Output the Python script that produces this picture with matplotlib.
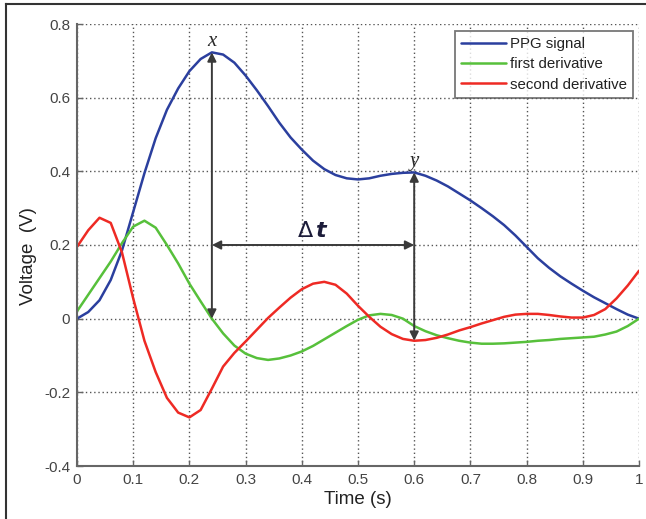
import numpy as np
import matplotlib
matplotlib.use("Agg")
import matplotlib.pyplot as plt
from matplotlib.lines import Line2D

plt.rcParams['font.family'] = ['Liberation Sans', 'DejaVu Sans']

# ---- data ----
time_s = [0.00, 0.02, 0.04, 0.06, 0.08, 0.10, 0.12, 0.14, 0.16, 0.18,
          0.20, 0.22, 0.24, 0.26, 0.28, 0.30, 0.32, 0.34, 0.36, 0.38,
          0.40, 0.42, 0.44, 0.46, 0.48, 0.50, 0.52, 0.54, 0.56, 0.58,
          0.60, 0.62, 0.64, 0.66, 0.68, 0.70, 0.72, 0.74, 0.76, 0.78,
          0.80, 0.82, 0.84, 0.86, 0.88, 0.90, 0.92, 0.94, 0.96, 0.98, 1.00]

ppg_signal = [0.0, 0.018, 0.05, 0.105, 0.185, 0.29, 0.395, 0.49, 0.567, 0.625,
              0.672, 0.705, 0.723, 0.717, 0.695, 0.66, 0.62, 0.577, 0.532, 0.492,
              0.459, 0.429, 0.406, 0.39, 0.381, 0.378, 0.381, 0.388, 0.393, 0.396,
              0.397, 0.388, 0.375, 0.359, 0.34, 0.321, 0.30, 0.278, 0.254, 0.226,
              0.195, 0.164, 0.138, 0.115, 0.095, 0.076, 0.058, 0.042, 0.026, 0.011, 0.0]

first_derivative = [0.02, 0.065, 0.11, 0.155, 0.205, 0.25, 0.266, 0.247, 0.2, 0.15,
                    0.095, 0.047, 0.0, -0.04, -0.073, -0.095, -0.107, -0.112, -0.108, -0.10,
                    -0.089, -0.074, -0.056, -0.038, -0.02, -0.003, 0.009, 0.013, 0.01, 0.0,
                    -0.02, -0.034, -0.045, -0.053, -0.06, -0.065, -0.068, -0.068, -0.067, -0.065,
                    -0.063, -0.06, -0.058, -0.055, -0.053, -0.051, -0.049, -0.043, -0.035, -0.02, 0.0]

second_derivative = [0.195, 0.24, 0.274, 0.26, 0.18, 0.055, -0.06, -0.145, -0.215, -0.255,
                     -0.268, -0.248, -0.19, -0.13, -0.093, -0.062, -0.03, 0.002, 0.03, 0.057,
                     0.08, 0.095, 0.1, 0.092, 0.068, 0.035, 0.005, -0.022, -0.042, -0.055,
                     -0.06, -0.058, -0.052, -0.043, -0.032, -0.023, -0.013, -0.004, 0.005, 0.011,
                     0.013, 0.013, 0.01, 0.006, 0.003, 0.003, 0.01, 0.026, 0.055, 0.09, 0.13]

series_labels = ["PPG signal", "first derivative", "second derivative"]
x_ticks = [0, 0.1, 0.2, 0.3, 0.4, 0.5, 0.6, 0.7, 0.8, 0.9, 1]
x_tick_labels = ["0", "0.1", "0.2", "0.3", "0.4", "0.5", "0.6", "0.7", "0.8", "0.9", "1"]
y_ticks = [-0.4, -0.2, 0, 0.2, 0.4, 0.6, 0.8]
y_tick_labels = ["-0.4", "-0.2", "0", "0.2", "0.4", "0.6", "0.8"]
point_y_time = 0.6

# ---- figure ----
fig = plt.figure(figsize=(6.46, 5.19), dpi=100)
ax = fig.add_axes([77/646, 1-466/519, (639-77)/646, (466-24)/519])

colors = ['#2b3f9e', '#57c03b', '#ee2a24']
t = np.array(time_s)
for vals, c, lab in zip([ppg_signal, first_derivative, second_derivative], colors, series_labels):
    ax.plot(t, vals, color=c, lw=1.8, label=lab, solid_capstyle='round',
            solid_joinstyle='round')

ax.set_xlim(0, 1)
ax.set_ylim(-0.4, 0.8)
ax.set_xticks(x_ticks)
ax.set_xticklabels(x_tick_labels)
ax.set_yticks(y_ticks)
ax.set_yticklabels(y_tick_labels)
ax.grid(True, linestyle=(0, (1, 2)), color='#555555', lw=1.0)
ax.set_axisbelow(True)
for s in ['top', 'right']:
    ax.spines[s].set_visible(False)
for s in ['left', 'bottom']:
    ax.spines[s].set_color('#666666')
    ax.spines[s].set_linewidth(1.5)
ax.tick_params(direction='in', length=4, width=1, colors='#666666',
               labelcolor='#444444', labelsize=11, pad=5)

ax.set_xlabel("Time (s)", fontsize=13.5, color='#222222', labelpad=3)
ax.set_ylabel("Voltage  (V)", fontsize=13.5, color='#222222')
ax.yaxis.set_label_coords(-0.072, 0.475)

leg = ax.legend(loc='upper right', bbox_to_anchor=(0.99, 0.985), borderaxespad=0,
                fontsize=10.8, frameon=True, fancybox=False, handlelength=3.0,
                handletextpad=0.25, labelspacing=0.42, borderpad=0.42)
leg.get_frame().set_edgecolor('#555555')
leg.get_frame().set_linewidth(1.3)
for txt in leg.get_texts():
    txt.set_color('#222222')

# ---- annotations derived from data ----
ppg = np.array(ppg_signal)
i_peak = int(np.argmax(ppg))
tx, vx = t[i_peak], ppg[i_peak]
i_y = int(np.argmin(np.abs(t - point_y_time)))
ty, vy = t[i_y], ppg[i_y]
vy_low = second_derivative[i_y]
h_level = 0.2

arrow_kw = dict(arrowstyle='<|-|>', color='#3a3a3a', lw=1.4, mutation_scale=13,
                shrinkA=0, shrinkB=0)
ax.annotate('', xy=(tx, vx), xytext=(tx, 0.0), arrowprops=arrow_kw)
ax.annotate('', xy=(ty, vy), xytext=(ty, vy_low), arrowprops=arrow_kw)
ax.annotate('', xy=(tx, h_level), xytext=(ty, h_level), arrowprops=arrow_kw)

ax.text(tx, vx + 0.005, 'x', family='Liberation Serif', style='italic', fontsize=15,
        ha='center', va='bottom', color='#2a2a2a')
ax.text(ty, vy + 0.005, 'y', family='Liberation Serif', style='italic', fontsize=15,
        ha='center', va='bottom', color='#2a2a2a')
ax.text((tx + ty) / 2, h_level + 0.008, r'$\Delta\,\boldsymbol{t}$', fontsize=16,
        ha='center', va='bottom', color='#1c1c3a')

# figure frame (top and left)
fig.add_artist(Line2D([6/646, 6/646], [0, 1-4/519], transform=fig.transFigure,
                      color='#333333', lw=1.5))
fig.add_artist(Line2D([6/646, 1], [1-4/519, 1-4/519], transform=fig.transFigure,
                      color='#333333', lw=1.5))

fig.savefig('out.png', dpi=100)
